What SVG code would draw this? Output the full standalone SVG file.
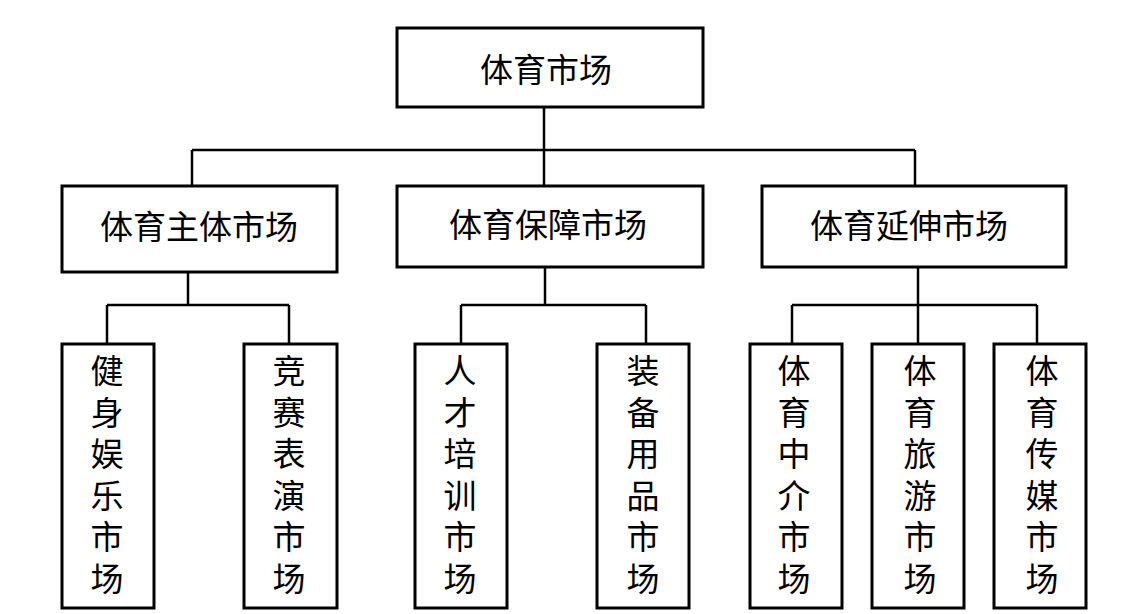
<svg xmlns="http://www.w3.org/2000/svg" width="1134" height="614" viewBox="0 0 1134 614">
<style>
.box{fill:#fff;stroke:#000;stroke-width:3}
.conn{fill:none;stroke:#000;stroke-width:2.5}
text{font-family:"Liberation Serif","Noto Sans CJK SC",serif;font-size:33px;fill:#000;text-anchor:middle;dominant-baseline:central}
</style>
<rect width="1134" height="614" fill="#fff"/>
<g id="connectors">
<path class="conn" d="M544 107V150M192 150H915M192 150V186M544 150V186M915 150V186"/>
<path class="conn" d="M188 272V305M107 305H289M107 305V344M289 305V344"/>
<path class="conn" d="M545 267V305M461 305H646M461 305V344M646 305V344"/>
<path class="conn" d="M918 267V305M792 305H1037M792 305V344M918 305V344M1037 305V344"/>
</g>
<g id="root"><rect class="box" x="397" y="28" width="306" height="79"/><text x="546" y="71">体育市场</text></g>
<g id="main"><rect class="box" x="62" y="186" width="275" height="86"/><text x="199" y="228">体育主体市场</text></g>
<g id="support"><rect class="box" x="397" y="186" width="306" height="81"/><text x="548" y="226">体育保障市场</text></g>
<g id="extend"><rect class="box" x="762" y="186" width="304" height="81"/><text x="909" y="227">体育延伸市场</text></g>
<g id="leaf1"><rect class="box" x="62" y="344" width="92" height="264"/>
<text x="107" y="372">健</text><text x="107" y="413.5">身</text><text x="107" y="455">娱</text><text x="107" y="496.5">乐</text><text x="107" y="538">市</text><text x="107" y="579.5">场</text></g>
<g id="leaf2"><rect class="box" x="244" y="344" width="93" height="264"/>
<text x="289" y="372">竞</text><text x="289" y="413.5">赛</text><text x="289" y="455">表</text><text x="289" y="496.5">演</text><text x="289" y="538">市</text><text x="289" y="579.5">场</text></g>
<g id="leaf3"><rect class="box" x="415" y="344" width="92" height="264"/>
<text x="460" y="372">人</text><text x="460" y="413.5">才</text><text x="460" y="455">培</text><text x="460" y="496.5">训</text><text x="460" y="538">市</text><text x="460" y="579.5">场</text></g>
<g id="leaf4"><rect class="box" x="597" y="344" width="92" height="264"/>
<text x="643" y="372">装</text><text x="643" y="413.5">备</text><text x="643" y="455">用</text><text x="643" y="496.5">品</text><text x="643" y="538">市</text><text x="643" y="579.5">场</text></g>
<g id="leaf5"><rect class="box" x="750" y="344" width="92" height="264"/>
<text x="794" y="372">体</text><text x="794" y="413.5">育</text><text x="794" y="455">中</text><text x="794" y="496.5">介</text><text x="794" y="538">市</text><text x="794" y="579.5">场</text></g>
<g id="leaf6"><rect class="box" x="872" y="344" width="92" height="264"/>
<text x="920" y="372">体</text><text x="920" y="413.5">育</text><text x="920" y="455">旅</text><text x="920" y="496.5">游</text><text x="920" y="538">市</text><text x="920" y="579.5">场</text></g>
<g id="leaf7"><rect class="box" x="994" y="344" width="92" height="264"/>
<text x="1042" y="372">体</text><text x="1042" y="413.5">育</text><text x="1042" y="455">传</text><text x="1042" y="496.5">媒</text><text x="1042" y="538">市</text><text x="1042" y="579.5">场</text></g>
</svg>
